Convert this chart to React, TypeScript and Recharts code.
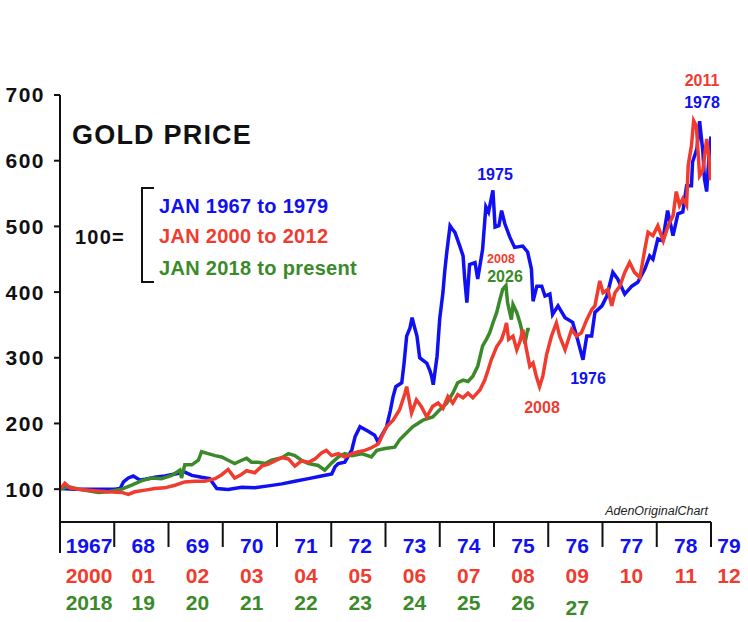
import React from "react";
import { LineChart, Line, XAxis, YAxis } from "recharts";

const BLUE = "#1010f2";
const RED = "#f03c2f";
const GREEN = "#3b8a2a";

// year labels under each tick (tick i = i years after Jan of the start year)
const blueRow = ["1967", "68", "69", "70", "71", "72", "73", "74", "75", "76", "77", "78", "79"];
const redRow = ["2000", "01", "02", "03", "04", "05", "06", "07", "08", "09", "10", "11", "12"];
const greenRow = ["2018", "19", "20", "21", "22", "23", "24", "25", "26", "27"];

const xTicks = [0, 1, 2, 3, 4, 5, 6, 7, 8, 9, 10, 11, 12];
const yTicks = [100, 200, 300, 400, 500, 600, 700];

// 1967-1979 (years since Jan 1967, index 100 = Jan 1967)
const blueYears = [
  0, 0.28, 0.64, 1.01, 1.11, 1.17, 1.26, 1.35, 1.47, 1.57,
  1.75, 1.93, 2.12, 2.3, 2.43, 2.61, 2.76, 2.89, 3.1, 3.35,
  3.59, 3.84, 4.09, 4.33, 4.58, 4.82, 5.01, 5.07, 5.13, 5.25,
  5.38, 5.44, 5.53, 5.68, 5.8, 5.86, 5.93, 6.02, 6.09, 6.14,
  6.19, 6.3, 6.34, 6.39, 6.45, 6.49, 6.54, 6.58, 6.63, 6.71,
  6.76, 6.82, 6.85, 6.88, 6.95, 7.0, 7.06, 7.09, 7.13, 7.19,
  7.24, 7.28, 7.37, 7.43, 7.46, 7.5, 7.55, 7.65, 7.7, 7.76,
  7.79, 7.85, 7.9, 7.98, 8.02, 8.09, 8.14, 8.2, 8.29, 8.38,
  8.53, 8.62, 8.69, 8.72, 8.79, 8.88, 8.94, 9.03, 9.08, 9.18,
  9.31, 9.45, 9.54, 9.64, 9.71, 9.8, 9.86, 9.99, 10.08, 10.19,
  10.28, 10.41, 10.54, 10.65, 10.78, 10.87, 10.93, 11.02, 11.11, 11.2,
  11.3, 11.39, 11.48, 11.55, 11.64, 11.66, 11.74, 11.79, 11.85, 11.88,
  11.92, 11.96, 12.0,
];
const blueValues = [
  101, 100, 100, 100, 101, 111, 117, 120, 114, 115,
  118, 120, 123, 126, 121, 118, 116, 101, 99.5, 103,
  102, 105, 108, 112, 116, 120, 123, 134, 139, 141,
  160, 180, 195, 188, 182, 172, 182, 195, 220, 241,
  256, 262, 290, 333, 345, 361, 345, 333, 300, 295,
  292, 280, 272, 259, 302, 360, 400, 430, 461, 501,
  495, 491, 470, 455, 420, 384, 442, 445, 420, 450,
  465, 530, 522, 555, 499, 501, 524, 504, 484, 468,
  470, 461, 435, 386, 409, 409, 394, 397, 366, 379,
  361, 354, 328, 297, 333, 333, 369, 379, 394, 430,
  420, 397, 409, 415, 435, 455, 450, 481, 478, 524,
  486, 519, 522, 562, 562, 598, 618, 660, 614, 572,
  553, 603, 637,
];

// 2000-2012
const redYears = [
  0, 0.09, 0.18, 0.4, 0.64, 0.89, 1.14, 1.26, 1.38, 1.57,
  1.75, 1.93, 2.12, 2.3, 2.49, 2.67, 2.86, 2.98, 3.1, 3.22,
  3.32, 3.44, 3.59, 3.72, 3.84, 3.96, 4.09, 4.21, 4.33, 4.45,
  4.58, 4.7, 4.82, 4.91, 5.01, 5.13, 5.25, 5.38, 5.5, 5.62,
  5.74, 5.87, 5.96, 6.02, 6.14, 6.26, 6.36, 6.39, 6.48, 6.57,
  6.66, 6.76, 6.87, 6.97, 7.06, 7.15, 7.24, 7.33, 7.43, 7.52,
  7.61, 7.74, 7.83, 7.89, 7.95, 8.05, 8.14, 8.2, 8.23, 8.27,
  8.35, 8.42, 8.48, 8.53, 8.6, 8.66, 8.72, 8.78, 8.84, 8.9,
  8.97, 9.06, 9.15, 9.21, 9.31, 9.43, 9.52, 9.61, 9.71, 9.8,
  9.86, 9.95, 10.01, 10.1, 10.17, 10.23, 10.32, 10.41, 10.5, 10.59,
  10.69, 10.78, 10.84, 10.93, 11.02, 11.12, 11.21, 11.3, 11.36, 11.42,
  11.48, 11.55, 11.58, 11.64, 11.68, 11.73, 11.79, 11.85, 11.92, 11.96,
  11.99,
];
const redValues = [
  100, 109, 102, 99, 97.5, 96, 95, 92, 96, 98.5,
  101, 102, 106, 111, 112, 112, 116, 122, 130, 117,
  121, 128, 125, 135, 138, 143, 148, 146, 135, 143,
  141, 146, 155, 159, 151, 154, 149, 154, 157, 159,
  163, 169, 185, 195, 205, 221, 246, 256, 216, 236,
  226, 210, 226, 231, 223, 241, 231, 244, 239, 246,
  239, 251, 266, 281, 297, 317, 328, 343, 353, 328,
  333, 312, 325, 343, 312, 287, 292, 272, 256, 272,
  305, 333, 353, 333, 312, 343, 333, 338, 358, 373,
  379, 417, 399, 404, 379, 399, 409, 430, 445, 430,
  422, 465, 491, 486, 501, 478, 501, 516, 553, 532,
  542, 532, 593, 623, 661, 653, 577, 585, 633, 608,
  570,
];

// 2018-present
const greenYears = [
  0, 0.15, 0.34, 0.52, 0.71, 0.89, 1.14, 1.32, 1.51, 1.69,
  1.87, 2.06, 2.21, 2.24, 2.3, 2.43, 2.55, 2.61, 2.73, 2.86,
  2.98, 3.1, 3.22, 3.35, 3.44, 3.53, 3.65, 3.78, 3.9, 4.09,
  4.21, 4.33, 4.45, 4.58, 4.76, 4.88, 5.01, 5.13, 5.25, 5.38,
  5.56, 5.74, 5.84, 5.99, 6.17, 6.26, 6.5, 6.69, 6.87, 7.0,
  7.13, 7.24, 7.33, 7.43, 7.52, 7.61, 7.7, 7.79, 7.86, 7.92,
  7.98, 8.05, 8.11, 8.16, 8.22, 8.25, 8.32, 8.35, 8.42, 8.48,
  8.57, 8.62, 8.66,
];
const greenValues = [
  100, 104, 100, 97.5, 95, 96, 100, 106, 113, 117,
  116, 121, 129, 117, 137, 137, 144, 157, 154, 151,
  149, 144, 139, 144, 147, 141, 141, 139, 144, 148,
  154, 151, 144, 139, 136, 129, 140, 149, 154, 151,
  154, 149, 159, 162, 164, 175, 195, 205, 210, 221,
  231, 246, 262, 266, 264, 272, 287, 318, 328, 338,
  353, 369, 389, 404, 410, 384, 358, 381, 369, 353,
  322, 343, 343,
];

const toPoints = (ts: number[], vs: number[]) => ts.map((t, i) => ({ t, v: vs[i] }));
const blueData = toPoints(blueYears, blueValues);
const redData = toPoints(redYears, redValues);
const greenData = toPoints(greenYears, greenValues);

const bold = { fontFamily: "Arial, 'Liberation Sans', sans-serif", fontWeight: 700 };

function YearTick(props: any) {
  const { x, y, payload } = props;
  const i = payload.value as number;
  const cx = i < 12 ? x + 29 : x + 18;
  return (
    <g>
      <line x1={x} y1={y} x2={x} y2={y + (i === 0 ? 31 : 25)} stroke="#111" strokeWidth={2} />
      {blueRow[i] && (
        <text x={cx} y={y + 31} textAnchor="middle" fill={BLUE} fontSize={21} style={bold}>
          {blueRow[i]}
        </text>
      )}
      {redRow[i] && (
        <text x={cx} y={y + 61} textAnchor="middle" fill={RED} fontSize={21} style={bold}>
          {redRow[i]}
        </text>
      )}
      {greenRow[i] && (
        <text x={cx} y={y + (i === 9 ? 93 : 88)} textAnchor="middle" fill={GREEN} fontSize={21} style={bold}>
          {greenRow[i]}
        </text>
      )}
    </g>
  );
}

function Notes() {
  return (
    <svg width={748} height={622} style={{ position: "absolute", left: 0, top: 0, pointerEvents: "none" }}>
      <text x={72} y={144} fontSize={27} letterSpacing={1.2} fill="#111" style={bold}>GOLD PRICE</text>
      <text x={75} y={244} fontSize={20} letterSpacing={1.2} fill="#111" style={bold}>100=</text>
      <polyline points="154,188 142,188 142,282 154,282" fill="none" stroke="#111" strokeWidth={2} />
      <text x={159} y={213} fontSize={20} letterSpacing={0.3} fill={BLUE} style={bold}>JAN 1967 to 1979</text>
      <text x={159} y={243} fontSize={20} letterSpacing={0.3} fill={RED} style={bold}>JAN 2000 to 2012</text>
      <text x={159} y={275} fontSize={20} letterSpacing={0.3} fill={GREEN} style={bold}>JAN 2018 to present</text>

      <text x={495} y={180} textAnchor="middle" fontSize={16} fill={BLUE} style={bold}>1975</text>
      <text x={501} y={263} textAnchor="middle" fontSize={12.5} fill={RED} style={bold}>2008</text>
      <text x={505} y={282} textAnchor="middle" fontSize={16} fill={GREEN} style={bold}>2026</text>
      <text x={542} y={413} textAnchor="middle" fontSize={16} fill={RED} style={bold}>2008</text>
      <text x={588} y={384} textAnchor="middle" fontSize={16} fill={BLUE} style={bold}>1976</text>
      <text x={702} y={86} textAnchor="middle" fontSize={16} fill={RED} style={bold}>2011</text>
      <text x={702} y={108} textAnchor="middle" fontSize={16} fill={BLUE} style={bold}>1978</text>

      <text x={708} y={515} textAnchor="end" fontSize={12.5} fontStyle="italic" fill="#222"
        style={{ fontFamily: "Arial, 'Liberation Sans', sans-serif" }}>
        AdenOriginalChart
      </text>
    </svg>
  );
}

export default function App() {
  return (
    <div style={{ position: "absolute", left: 0, top: 0, width: 748, height: 622, background: "#fff" }}>
      <LineChart width={748} height={622} margin={{ top: 95, right: 37, bottom: 40, left: 0 }}>
        <XAxis
          dataKey="t"
          type="number"
          domain={[0, 12]}
          ticks={xTicks}
          interval={0}
          height={60}
          tickSize={0}
          tickMargin={0}
          tickLine={false}
          axisLine={{ stroke: "#111", strokeWidth: 2 }}
          tick={<YearTick />}
          allowDataOverflow
        />
        <YAxis
          dataKey="v"
          type="number"
          domain={[50, 700]}
          ticks={yTicks}
          interval={0}
          width={60}
          tickSize={6}
          tickMargin={9}
          axisLine={{ stroke: "#111", strokeWidth: 2 }}
          tickLine={{ stroke: "#111", strokeWidth: 2 }}
          tick={{ fill: "#111", fontSize: 21, fontWeight: 700, letterSpacing: 1.5, fontFamily: "Arial, 'Liberation Sans', sans-serif" }}
          allowDataOverflow
        />
        <Line data={blueData} dataKey="v" type="linear" stroke={BLUE} strokeWidth={3.5} dot={false} isAnimationActive={false} />
        <Line data={greenData} dataKey="v" type="linear" stroke={GREEN} strokeWidth={3.5} dot={false} isAnimationActive={false} />
        <Line data={redData} dataKey="v" type="linear" stroke={RED} strokeWidth={3.5} dot={false} isAnimationActive={false} />
      </LineChart>
      <Notes />
    </div>
  );
}
